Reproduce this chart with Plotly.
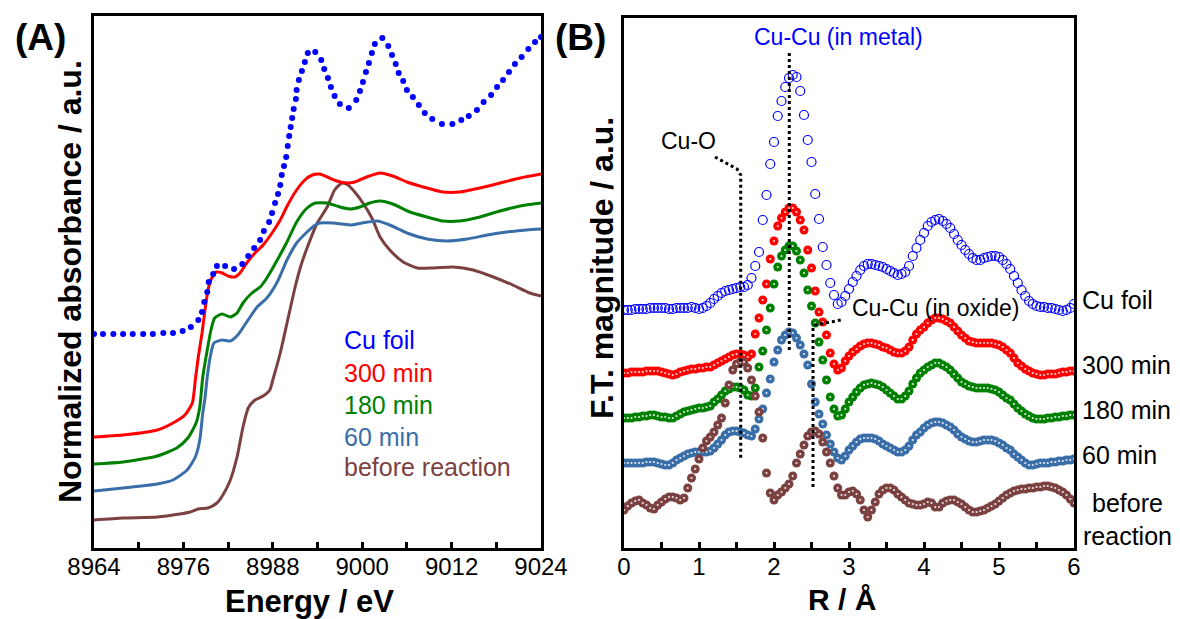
import plotly.graph_objects as go

W, H = 1180, 619

# ---------------- Panel A : XANES ----------------
cu_foil_E = [8964.0, 8965.2, 8966.6, 8967.9, 8969.2, 8970.6, 8971.9, 8973.3, 8974.6, 8975.9,
             8977.0, 8978.0, 8978.5, 8978.8, 8979.2, 8979.4, 8980.0, 8980.5, 8981.6, 8982.8,
             8983.9, 8984.7, 8985.5, 8986.3, 8986.8, 8987.5, 8987.9, 8988.3, 8988.7, 8989.0,
             8989.2, 8989.5, 8989.8, 8990.0, 8990.2, 8990.4, 8990.6, 8990.8, 8991.1, 8991.2,
             8991.5, 8991.9, 8992.3, 8992.7, 8993.7, 8994.5, 8994.9, 8995.4, 8995.8, 8996.3,
             8997.0, 8998.2, 8999.2, 8999.7, 9000.1, 9000.5, 9000.9, 9001.3, 9001.7, 9002.7,
             9003.5, 9004.0, 9004.5, 9004.9, 9005.5, 9006.0, 9006.8, 9007.6, 9008.4, 9009.4,
             9010.7, 9012.1, 9013.3, 9014.3, 9015.4, 9016.3, 9017.3, 9018.1, 9018.9, 9019.7,
             9020.5, 9021.4, 9022.3, 9023.2, 9024.0]
cu_foil_A = [2.14, 2.14, 2.14, 2.14, 2.14, 2.14, 2.14, 2.15, 2.15, 2.17,
             2.21, 2.28, 2.36, 2.46, 2.56, 2.66, 2.74, 2.82, 2.82, 2.79,
             2.84, 2.92, 3.00, 3.08, 3.17, 3.26, 3.35, 3.45, 3.54, 3.63,
             3.73, 3.82, 3.91, 4.02, 4.12, 4.21, 4.30, 4.39, 4.49, 4.58,
             4.68, 4.77, 4.86, 4.95, 4.96, 4.88, 4.79, 4.70, 4.61, 4.52,
             4.44, 4.40, 4.48, 4.57, 4.66, 4.76, 4.85, 4.95, 5.04, 5.10,
             5.02, 4.93, 4.84, 4.75, 4.67, 4.58, 4.51, 4.43, 4.35, 4.29,
             4.24, 4.24, 4.28, 4.32, 4.38, 4.46, 4.53, 4.61, 4.68, 4.76,
             4.84, 4.91, 4.99, 5.06, 5.11]

m300_E = [8964.0, 8967.9, 8972.5, 8974.6, 8976.2, 8977.2, 8977.6, 8978.0, 8978.5, 8978.9,
          8979.3, 8979.8, 8980.4, 8981.2, 8982.0, 8982.9, 8983.6, 8984.5, 8985.6, 8986.7,
          8987.9, 8989.0, 8990.0, 8991.2, 8992.3, 8993.3, 8994.3, 8995.3, 8996.6, 8998.0,
          8999.0, 9000.6, 9002.4, 9004.1, 9006.0, 9008.2, 9010.8, 9013.1, 9015.8, 9018.5,
          9021.2, 9024.0]
m300_A = [1.11, 1.13, 1.18, 1.25, 1.33, 1.45, 1.68, 1.91, 2.15, 2.38,
          2.58, 2.70, 2.76, 2.75, 2.72, 2.71, 2.75, 2.85, 2.95, 3.03,
          3.15, 3.28, 3.43, 3.58, 3.68, 3.73, 3.74, 3.71, 3.67, 3.65,
          3.66, 3.71, 3.75, 3.72, 3.66, 3.61, 3.56, 3.56, 3.60, 3.65,
          3.70, 3.74]

m180_E = [8964.0, 8967.9, 8972.5, 8975.1, 8976.6, 8977.7, 8978.2, 8978.6, 8979.2, 8979.7,
          8980.2, 8981.2, 8982.3, 8983.2, 8984.0, 8985.2, 8986.3, 8987.2, 8988.6, 8989.9,
          8991.2, 8992.6, 8993.7, 8995.3, 8997.0, 8998.4, 8999.7, 9001.0, 9002.4, 9004.1,
          9006.4, 9008.7, 9010.8, 9013.1, 9015.8, 9018.5, 9021.2, 9024.0]
m180_A = [0.84, 0.86, 0.92, 1.00, 1.10, 1.25, 1.41, 1.71, 1.98, 2.18,
          2.30, 2.34, 2.31, 2.35, 2.45, 2.55, 2.61, 2.70, 2.88, 3.06,
          3.26, 3.40, 3.45, 3.45, 3.41, 3.39, 3.41, 3.45, 3.47, 3.44,
          3.36, 3.31, 3.27, 3.27, 3.31, 3.37, 3.42, 3.45]

m60_E = [8964.0, 8967.9, 8972.5, 8974.6, 8976.5, 8977.6, 8978.2, 8978.6, 8978.9, 8979.2,
         8979.6, 8980.1, 8981.2, 8982.3, 8983.3, 8984.5, 8985.9, 8987.2, 8988.6, 8989.9,
         8991.2, 8992.6, 8993.7, 8994.3, 8996.1, 8998.4, 9000.0, 9002.0, 9003.7, 9006.0,
         9008.7, 9011.4, 9014.1, 9016.8, 9019.4, 9022.1, 9024.0]
m60_A = [0.57, 0.60, 0.64, 0.68, 0.78, 0.91, 1.08, 1.35, 1.50, 1.71,
         1.91, 2.05, 2.08, 2.07, 2.13, 2.26, 2.41, 2.50, 2.66, 2.88,
         3.05, 3.16, 3.23, 3.25, 3.25, 3.23, 3.25, 3.27, 3.23, 3.15,
         3.09, 3.07, 3.09, 3.13, 3.16, 3.18, 3.19]

before_E = [8964.0, 8967.9, 8972.5, 8975.5, 8976.9, 8978.0, 8979.3, 8980.5, 8981.3, 8982.3,
            8983.2, 8984.0, 8984.7, 8985.6, 8986.7, 8987.6, 8988.0, 8989.0, 8990.0, 8991.0,
            8991.8, 8992.6, 8993.9, 8995.3, 8996.3, 8997.3, 8998.1, 8999.0, 9000.1, 9001.3,
            9002.4, 9003.7, 9005.5, 9007.4, 9009.5, 9012.2, 9014.9, 9017.6, 9020.2, 9022.5,
            9024.0]
before_A = [0.28, 0.30, 0.31, 0.34, 0.36, 0.39, 0.40, 0.45, 0.53, 0.68,
            0.91, 1.21, 1.40, 1.48, 1.52, 1.58, 1.68, 1.95, 2.28, 2.61,
            2.83, 3.00, 3.24, 3.41, 3.58, 3.65, 3.63, 3.56, 3.45, 3.30,
            3.11, 2.98, 2.86, 2.80, 2.80, 2.81, 2.78, 2.71, 2.63, 2.55,
            2.52]

energy_ticks = [8964, 8976, 8988, 9000, 9012, 9024]

# ---------------- Panel B : FT-EXAFS ----------------
R = [0.00, 0.05, 0.10, 0.15, 0.20, 0.25, 0.30, 0.35, 0.40, 0.45,
     0.50, 0.55, 0.60, 0.65, 0.70, 0.75, 0.80, 0.85, 0.90, 0.95,
     1.00, 1.05, 1.10, 1.15, 1.20, 1.25, 1.30, 1.35, 1.40, 1.45,
     1.50, 1.55, 1.60, 1.65, 1.70, 1.75, 1.80, 1.85, 1.90, 1.95,
     2.00, 2.05, 2.10, 2.15, 2.20, 2.25, 2.30, 2.35, 2.40, 2.45,
     2.50, 2.55, 2.60, 2.65, 2.70, 2.75, 2.80, 2.85, 2.90, 2.95,
     3.00, 3.05, 3.10, 3.15, 3.20, 3.25, 3.30, 3.35, 3.40, 3.45,
     3.50, 3.55, 3.60, 3.65, 3.70, 3.75, 3.80, 3.85, 3.90, 3.95,
     4.00, 4.05, 4.10, 4.15, 4.20, 4.25, 4.30, 4.35, 4.40, 4.45,
     4.50, 4.55, 4.60, 4.65, 4.70, 4.75, 4.80, 4.85, 4.90, 4.95,
     5.00, 5.05, 5.10, 5.15, 5.20, 5.25, 5.30, 5.35, 5.40, 5.45,
     5.50, 5.55, 5.60, 5.65, 5.70, 5.75, 5.80, 5.85, 5.90, 5.95, 6.00]

ft_cu_foil = [2.38, 2.38, 2.38, 2.39, 2.39, 2.39, 2.39, 2.40, 2.40, 2.40,
              2.40, 2.40, 2.39, 2.39, 2.40, 2.40, 2.40, 2.40, 2.41, 2.40,
              2.39, 2.40, 2.42, 2.45, 2.49, 2.52, 2.55, 2.57, 2.58, 2.59,
              2.60, 2.61, 2.61, 2.63, 2.70, 2.82, 2.96, 3.28, 3.53, 3.84,
              4.06, 4.32, 4.47, 4.61, 4.70, 4.73, 4.71, 4.57, 4.33, 4.08,
              3.86, 3.54, 3.29, 3.01, 2.83, 2.65, 2.53, 2.44, 2.46, 2.52,
              2.59, 2.66, 2.72, 2.78, 2.82, 2.84, 2.84, 2.83, 2.82, 2.81,
              2.79, 2.77, 2.75, 2.73, 2.74, 2.76, 2.82, 2.92, 3.00, 3.08,
              3.15, 3.22, 3.26, 3.28, 3.29, 3.27, 3.24, 3.20, 3.14, 3.08,
              3.03, 2.98, 2.94, 2.90, 2.88, 2.88, 2.90, 2.91, 2.92, 2.92,
              2.91, 2.88, 2.84, 2.79, 2.72, 2.65, 2.58, 2.52, 2.47, 2.44,
              2.42, 2.41, 2.41, 2.40, 2.40, 2.39, 2.38, 2.37, 2.38, 2.40, 2.44]

ft_300 = [1.75, 1.75, 1.76, 1.76, 1.76, 1.76, 1.77, 1.77, 1.77, 1.77,
          1.76, 1.75, 1.74, 1.73, 1.74, 1.76, 1.77, 1.78, 1.79, 1.79,
          1.80, 1.80, 1.81, 1.81, 1.83, 1.85, 1.87, 1.89, 1.91, 1.93,
          1.94, 1.94, 1.93, 1.91, 1.94, 2.14, 2.30, 2.48, 2.64, 2.89,
          3.07, 3.22, 3.30, 3.36, 3.40, 3.40, 3.36, 3.28, 3.18, 2.98,
          2.80, 2.57, 2.36, 2.26, 2.13, 1.95, 1.84, 1.78, 1.80, 1.87,
          1.92, 1.96, 1.99, 2.02, 2.04, 2.05, 2.05, 2.04, 2.03, 2.01,
          2.00, 1.98, 1.96, 1.95, 1.95, 1.97, 2.01, 2.08, 2.14, 2.18,
          2.21, 2.25, 2.28, 2.30, 2.30, 2.29, 2.27, 2.25, 2.21, 2.17,
          2.13, 2.10, 2.07, 2.06, 2.05, 2.05, 2.05, 2.05, 2.05, 2.04,
          2.03, 2.01, 1.98, 1.95, 1.90, 1.85, 1.82, 1.79, 1.77, 1.75,
          1.74, 1.73, 1.73, 1.74, 1.74, 1.74, 1.75, 1.76, 1.76, 1.77, 1.77]

ft_180 = [1.30, 1.30, 1.30, 1.31, 1.31, 1.32, 1.32, 1.33, 1.33, 1.32,
          1.31, 1.31, 1.30, 1.30, 1.32, 1.34, 1.36, 1.37, 1.38, 1.39,
          1.40, 1.40, 1.41, 1.42, 1.46, 1.49, 1.53, 1.57, 1.59, 1.61,
          1.61, 1.60, 1.58, 1.53, 1.52, 1.60, 1.81, 1.97, 2.18, 2.40,
          2.64, 2.81, 2.92, 2.98, 3.02, 3.02, 2.97, 2.88, 2.75, 2.58,
          2.42, 2.25, 2.06, 1.88, 1.68, 1.51, 1.39, 1.32, 1.33, 1.39,
          1.46, 1.51, 1.56, 1.60, 1.63, 1.64, 1.65, 1.64, 1.63, 1.61,
          1.58, 1.55, 1.52, 1.49, 1.49, 1.52, 1.57, 1.64, 1.70, 1.75,
          1.78, 1.81, 1.83, 1.85, 1.85, 1.83, 1.81, 1.78, 1.74, 1.70,
          1.66, 1.64, 1.62, 1.61, 1.60, 1.60, 1.60, 1.60, 1.59, 1.58,
          1.56, 1.53, 1.50, 1.48, 1.44, 1.40, 1.37, 1.34, 1.32, 1.30,
          1.29, 1.29, 1.29, 1.30, 1.30, 1.31, 1.31, 1.32, 1.32, 1.33, 1.33]

ft_60 = [0.85, 0.85, 0.85, 0.85, 0.85, 0.85, 0.86, 0.86, 0.86, 0.85,
         0.84, 0.83, 0.83, 0.85, 0.88, 0.90, 0.92, 0.94, 0.95, 0.96,
         0.96, 0.96, 0.96, 0.97, 1.00, 1.04, 1.08, 1.13, 1.16, 1.17,
         1.17, 1.16, 1.15, 1.13, 1.12, 1.19, 1.29, 1.39, 1.55, 1.69,
         1.86, 1.98, 2.08, 2.13, 2.16, 2.15, 2.10, 2.03, 1.94, 1.83,
         1.64, 1.46, 1.34, 1.24, 1.13, 1.04, 0.96, 0.90, 0.88, 0.92,
         0.98, 1.02, 1.06, 1.09, 1.10, 1.10, 1.10, 1.09, 1.07, 1.04,
         1.02, 1.00, 0.98, 0.96, 0.96, 0.98, 1.02, 1.08, 1.13, 1.16,
         1.20, 1.23, 1.25, 1.26, 1.26, 1.25, 1.23, 1.21, 1.18, 1.14,
         1.11, 1.09, 1.07, 1.06, 1.06, 1.07, 1.08, 1.08, 1.08, 1.07,
         1.05, 1.03, 1.00, 0.98, 0.94, 0.91, 0.88, 0.85, 0.83, 0.83,
         0.84, 0.85, 0.85, 0.85, 0.86, 0.86, 0.87, 0.87, 0.88, 0.88, 0.89]

ft_before = [0.38, 0.42, 0.45, 0.47, 0.48, 0.45, 0.43, 0.40, 0.39, 0.43,
             0.46, 0.49, 0.51, 0.51, 0.50, 0.48, 0.50, 0.60, 0.70, 0.79,
             0.89, 1.00, 1.07, 1.11, 1.16, 1.23, 1.30, 1.45, 1.63, 1.78,
             1.84, 1.86, 1.86, 1.80, 1.68, 1.52, 1.36, 1.10, 0.75, 0.55,
             0.48, 0.53, 0.56, 0.60, 0.64, 0.72, 0.85, 0.94, 1.03, 1.12,
             1.16, 1.17, 1.14, 1.06, 0.96, 0.85, 0.72, 0.60, 0.53, 0.53,
             0.56, 0.57, 0.54, 0.48, 0.38, 0.31, 0.38, 0.46, 0.54, 0.58,
             0.60, 0.60, 0.58, 0.54, 0.51, 0.48, 0.45, 0.44, 0.43, 0.43,
             0.44, 0.46, 0.45, 0.41, 0.41, 0.45, 0.47, 0.48, 0.48, 0.46,
             0.44, 0.41, 0.38, 0.36, 0.36, 0.37, 0.38, 0.40, 0.42, 0.44,
             0.47, 0.50, 0.53, 0.55, 0.57, 0.58, 0.59, 0.59, 0.60, 0.60,
             0.61, 0.61, 0.62, 0.62, 0.61, 0.60, 0.58, 0.56, 0.53, 0.49, 0.45]

r_ticks = [0, 1, 2, 3, 4, 5, 6]

series_names = ["Cu foil", "300 min", "180 min", "60 min", "before reaction"]
colors = {"Cu foil": "#0000ff", "300 min": "#ff0000", "180 min": "#008000",
          "60 min": "#3a6ea8", "before reaction": "#7b4141"}

FONT = "Liberation Sans, Arial, sans-serif"

fig = go.Figure()

# Panel A curves
for name, E, A in [("before reaction", before_E, before_A), ("60 min", m60_E, m60_A),
                   ("180 min", m180_E, m180_A), ("300 min", m300_E, m300_A)]:
    fig.add_trace(go.Scatter(x=E, y=A, mode="lines",
                             line=dict(color=colors[name], width=3, shape="spline", smoothing=0.6),
                             xaxis="x", yaxis="y", showlegend=False, hoverinfo="skip"))
fig.add_trace(go.Scatter(x=cu_foil_E, y=cu_foil_A, mode="markers",
                         marker=dict(color=colors["Cu foil"], size=6),
                         xaxis="x", yaxis="y", showlegend=False, hoverinfo="skip"))

# Panel B curves
fig.add_trace(go.Scatter(x=R, y=ft_cu_foil, mode="markers",
                         marker=dict(symbol="circle-open", color=colors["Cu foil"], size=9, line=dict(width=1.2)),
                         xaxis="x2", yaxis="y2", showlegend=False, hoverinfo="skip"))
for name, vals in [("300 min", ft_300), ("180 min", ft_180), ("60 min", ft_60), ("before reaction", ft_before)]:
    fig.add_trace(go.Scatter(x=R, y=vals, mode="markers",
                             marker=dict(color=colors[name], size=9, line=dict(width=0)),
                             xaxis="x2", yaxis="y2", showlegend=False, hoverinfo="skip"))
    fig.add_trace(go.Scatter(x=R, y=vals, mode="markers",
                             marker=dict(color="white", size=2.2, opacity=0.85, line=dict(width=0)),
                             xaxis="x2", yaxis="y2", showlegend=False, hoverinfo="skip"))

# Dotted guide lines in panel B
dot_style = dict(color="black", width=3, dash="dot")
fig.add_trace(go.Scatter(x=[2.204, 2.204], y=[4.95, 1.95], mode="lines", line=dot_style,
                         xaxis="x2", yaxis="y2", showlegend=False, hoverinfo="skip"))
fig.add_trace(go.Scatter(x=[1.213, 1.507, 1.556, 1.556], y=[3.91, 3.79, 3.73, 0.90], mode="lines", line=dot_style,
                         xaxis="x2", yaxis="y2", showlegend=False, hoverinfo="skip"))
fig.add_trace(go.Scatter(x=[2.89, 2.55, 2.52, 2.52], y=[2.28, 2.23, 2.21, 0.58], mode="lines", line=dot_style,
                         xaxis="x2", yaxis="y2", showlegend=False, hoverinfo="skip"))

def px(x):
    return x / W

def py(y):
    return 1 - y / H

axis_common = dict(showline=True, linecolor="black", linewidth=3, mirror=True, showgrid=False,
                   zeroline=False, automargin=False)

fig.update_layout(
    width=W, height=H, margin=dict(l=0, r=0, t=0, b=0, autoexpand=False),
    paper_bgcolor="white", plot_bgcolor="white",
    font=dict(family=FONT, color="black"),
    xaxis=dict(domain=[px(94), px(541)], range=[8964, 9024], tickvals=energy_ticks,
               ticks="inside", ticklen=6, tickwidth=2.5, tickcolor="black", ticklabelstandoff=-5,
               minor=dict(ticks="inside", dtick=6, tick0=8964, ticklen=6, tickwidth=2.5, tickcolor="black"),
               tickfont=dict(size=24, family=FONT), anchor="y", **axis_common),
    yaxis=dict(domain=[py(548), py(16)], range=[0, 5.32], showticklabels=False, ticks="",
               anchor="x", **axis_common),
    xaxis2=dict(domain=[px(624), px(1074)], range=[0, 6], tickvals=r_ticks,
                ticks="inside", ticklen=6, tickwidth=2.5, tickcolor="black", ticklabelstandoff=-5,
                minor=dict(ticks="inside", dtick=0.5, tick0=0, ticklen=6, tickwidth=2.5, tickcolor="black"),
                tickfont=dict(size=24, family=FONT), anchor="y2", **axis_common),
    yaxis2=dict(domain=[py(548), py(18)], range=[0, 5.30], showticklabels=False, ticks="",
                anchor="x2", **axis_common),
)

ann = []
def add_text(text, x, y, size, color="black", bold=False, angle=0, xanchor="center", align="center"):
    t = f"<b>{text}</b>" if bold else text
    ann.append(dict(text=t, x=px(x), y=py(y), xref="paper", yref="paper", showarrow=False,
                    xanchor=xanchor, yanchor="middle", textangle=angle, align=align,
                    font=dict(size=size, color=color, family=FONT)))

add_text("(A)", 40, 38, 37, bold=True)
add_text("(B)", 580, 38, 37, bold=True)
add_text("Normalized absorbance / a.u.", 70, 282, 32, bold=True, angle=-90)
add_text("F.T. magnitude / a.u.", 602, 268, 32, bold=True, angle=-90)
add_text("Energy / eV", 309, 601, 31, bold=True)
add_text("R / Å", 842, 599, 30, bold=True)

legend_y = [340, 373, 405, 437, 467]
for name, yy in zip(series_names, legend_y):
    add_text(name, 342, yy, 25, color=colors[name], xanchor="left", align="left")

add_text("Cu-Cu (in metal)", 838, 37, 23, color="#0000ff")
add_text("Cu-O", 688, 141, 23)
add_text("Cu-Cu (in oxide)", 935, 308, 23)

right_labels = [("Cu foil", 300), ("300 min", 365), ("180 min", 410), ("60 min", 455)]
for t, yy in right_labels:
    add_text(t, 1080, yy, 25, xanchor="left", align="left")
add_text("before<br>reaction", 1127, 519, 25)

fig.update_layout(annotations=ann)
fig.write_html("out.html")
